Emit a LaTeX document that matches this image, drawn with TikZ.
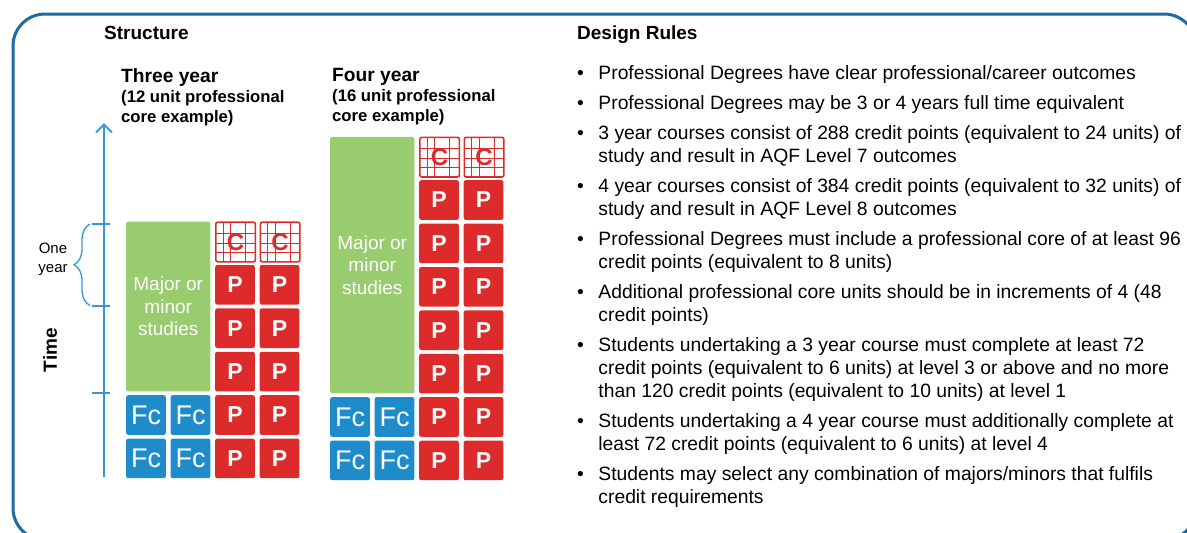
\documentclass[tikz,border=0pt]{standalone}
\usepackage{fontspec}
\setmainfont{Liberation Sans}
\usetikzlibrary{arrows.meta, positioning, calc, decorations.pathreplacing}

\definecolor{profred}{HTML}{DD2A2A}
\definecolor{foundblue}{HTML}{1E8BCB}
\definecolor{majorgreen}{HTML}{98CC6F}
\definecolor{axisblue}{HTML}{3896D6}
\definecolor{frameblue}{HTML}{1C6CA1}

% one bullet point, lines split with \\ &
\newcommand{\bpt}[1]{\begin{tabular}{@{}l@{\hspace{14.5pt}}l@{}}\textbullet & #1\end{tabular}}

\tikzset{
  cell/.style={anchor=north west, minimum width=39.6pt, minimum height=39.6pt, inner sep=0pt, rounded corners=2pt},
  pcell/.style={cell, fill=profred, text=white, font=\bfseries\fontsize{23}{23}\selectfont},
  fccell/.style={cell, fill=foundblue, text=white, font=\fontsize{27}{27}\selectfont},
  ccell/.style={cell, draw=profred, line width=1.6pt, fill=white, text=profred,
    font=\bfseries\fontsize{24}{24}\selectfont,
    path picture={
      \foreach \f in {0.19,0.38,0.76}
        \draw[profred, line width=1.2pt] ($(path picture bounding box.north west)!\f!(path picture bounding box.north east)$) -- ($(path picture bounding box.south west)!\f!(path picture bounding box.south east)$);
      \foreach \f in {0.28,0.54,0.76}
        \draw[profred, line width=1.2pt] ($(path picture bounding box.north west)!\f!(path picture bounding box.south west)$) -- ($(path picture bounding box.north east)!\f!(path picture bounding box.south east)$);
    }},
  majorbox/.style={anchor=north west, fill=majorgreen, rounded corners=2pt, minimum width=84.1pt, inner sep=0pt,
    text=white, align=center, font=\fontsize{19}{22.5}\selectfont},
  head/.style={anchor=base west, inner sep=0pt, font=\bfseries\fontsize{19}{19}\selectfont},
  colhead/.style={anchor=base west, inner sep=0pt, font=\bfseries\fontsize{19.2}{19.2}\selectfont},
  subhead/.style={inner sep=0pt, align=left, font=\bfseries\fontsize{16.7}{20}\selectfont},
  rulebox/.style={inner sep=0pt, anchor=north west, font=\fontsize{19.3}{23}\selectfont},
  axis/.style={axisblue, line width=2pt},
}

\begin{document}
\begin{tikzpicture}[x=1pt, y=-1pt]
  \path[use as bounding box, clip] (0,0) rectangle (1187,533);
  \draw[frameblue, line width=3pt, rounded corners=32pt] (13,14) rectangle (1196,540);

  % headings
  \node[head] (structure) at (104,39.5) {Structure};
  \node[head] (design) at (577,39.5) {Design Rules};
  \node[colhead] (three) at (121,82.5) {Three year};
  \node[subhead, below right=4pt and 0pt of three.south west] (threesub) {(12 unit professional\\core example)};
  \node[colhead] (four) at (332,81.5) {Four year};
  \node[subhead, below right=4pt and 0pt of four.south west] (foursub) {(16 unit professional\\core example)};

  % time axis
  \coordinate (tbot) at (104,477);
  \coordinate (ttop) at (104,123);
  \draw[axis, -{Straight Barb[length=8pt, width=16pt, line width=2pt]}] (tbot) -- (ttop);
  \foreach \y in {224,305.5,393}
    \draw[axis] (92,\y) -- (110,\y);
  \draw[axisblue, line width=1.3pt, decorate, decoration={brace, amplitude=16pt}] (90,305.5) -- (90,224);
  \node[font=\fontsize{15}{19}\selectfont, align=center] (oneyear) at (53,259) {One\\year};
  \node[font=\bfseries\fontsize{19}{19}\selectfont, rotate=90] (timelabel) at (50,350) {Time};

  % three year course
  \node[majorbox, minimum height=169.8pt] (tmajor) at (126,221.4) {Major or\\minor\\studies};
  \foreach \c/\x in {1/215,2/259.5}{
    \node[ccell] (tc\c) at (\x,221.4) {C};
    \foreach \r in {1,...,5}
      \node[pcell] (tp\c\r) at (\x,{221.4+43.4*\r}) {P};
  }
  \foreach \c/\x in {1/126,2/170.5}
    \foreach \r in {4,5}
      \node[fccell] (tf\c\r) at (\x,{221.4+43.4*\r}) {Fc};

  % four year course
  \node[majorbox, minimum height=256.6pt] (fmajor) at (330,136.6) {Major or\\minor\\studies};
  \foreach \c/\x in {1/419,2/463.5}{
    \node[ccell] (fc\c) at (\x,136.6) {C};
    \foreach \r in {1,...,7}
      \node[pcell] (fp\c\r) at (\x,{136.6+43.4*\r}) {P};
  }
  \foreach \c/\x in {1/330,2/374.5}
    \foreach \r in {6,7}
      \node[fccell] (ff\c\r) at (\x,{136.6+43.4*\r}) {Fc};

  % design rules
  \node[rulebox] (r1) at (577,63.4) {\bpt{Professional Degrees have clear professional/career outcomes}};
  \node[rulebox, below right=6.6pt and 0pt of r1.south west] (r2) {\bpt{Professional Degrees may be 3 or 4 years full time equivalent}};
  \node[rulebox, below right=6.6pt and 0pt of r2.south west] (r3) {\bpt{3 year courses consist of 288 credit points (equivalent to 24 units) of\\ & study and result in AQF Level 7 outcomes}};
  \node[rulebox, below right=6.6pt and 0pt of r3.south west] (r4) {\bpt{4 year courses consist of 384 credit points (equivalent to 32 units) of\\ & study and result in AQF Level 8 outcomes}};
  \node[rulebox, below right=6.6pt and 0pt of r4.south west] (r5) {\bpt{Professional Degrees must include a professional core of at least 96\\ & credit points (equivalent to 8 units)}};
  \node[rulebox, below right=6.6pt and 0pt of r5.south west] (r6) {\bpt{Additional professional core units should be in increments of 4 (48\\ & credit points)}};
  \node[rulebox, below right=6.6pt and 0pt of r6.south west] (r7) {\bpt{Students undertaking a 3 year course must complete at least 72\\ & credit points (equivalent to 6 units) at level 3 or above and no more\\ & than 120 credit points (equivalent to 10 units) at level 1}};
  \node[rulebox, below right=6.6pt and 0pt of r7.south west] (r8) {\bpt{Students undertaking a 4 year course must additionally complete at\\ & least 72 credit points (equivalent to 6 units) at level 4}};
  \node[rulebox, below right=6.6pt and 0pt of r8.south west] (r9) {\bpt{Students may select any combination of majors/minors that fulfils\\ & credit requirements}};
\end{tikzpicture}
\end{document}
